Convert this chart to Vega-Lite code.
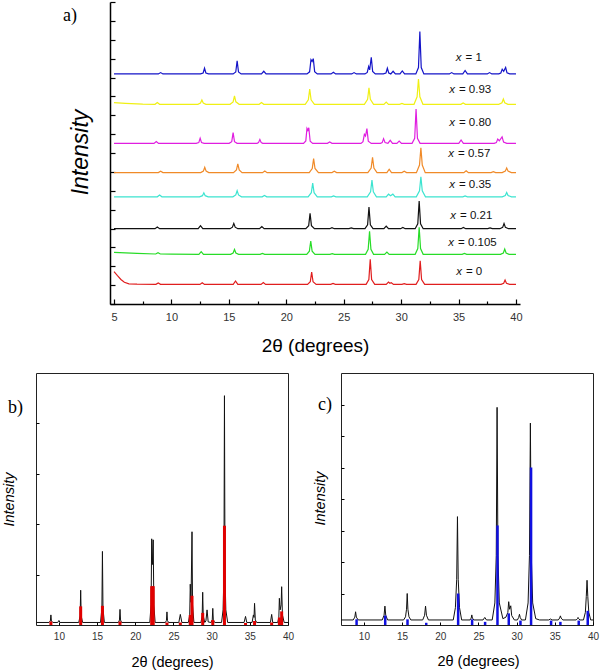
{
"$schema": "https://vega.github.io/schema/vega-lite/v6.json",
"autosize": {"type": "none"},
"padding": {"left": 36, "top": 2, "right": 564, "bottom": 669},
"background": "white",
"bounds": "flush",
"spacing": 69,
"config": {
  "font": "Liberation Sans",
  "view": {"stroke": "#222", "strokeWidth": 1},
  "axis": {"grid": false, "domainColor": "black", "tickColor": "black", "labelColor": "#333", "labelFont": "Liberation Sans", "titleFont": "Liberation Sans", "titleFontWeight": "normal", "titleColor": "black"},
  "title": {"font": "Liberation Serif", "fontWeight": "normal", "color": "black", "anchor": "start", "frame": "group", "baseline": "middle", "offset": 0}
},
"datasets": {
  "blue": [{"x":5,"y":12.19},{"x":8.86,"y":12.19},{"x":9.06,"y":12.26},{"x":9.26,"y":12.19},{"x":12.53,"y":12.19},{"x":12.76,"y":12.24},{"x":12.88,"y":12.49},{"x":13.0,"y":12.24},{"x":13.23,"y":12.19},{"x":15.37,"y":12.19},{"x":15.6,"y":12.29},{"x":15.72,"y":12.88},{"x":15.84,"y":12.29},{"x":16.07,"y":12.19},{"x":17.84,"y":12.19},{"x":18.04,"y":12.33},{"x":18.24,"y":12.19},{"x":21.8,"y":12.19},{"x":22.03,"y":12.3},{"x":22.15,"y":12.94},{"x":22.25,"y":12.85},{"x":22.35,"y":13.0},{"x":22.47,"y":12.31},{"x":22.7,"y":12.19},{"x":23.9,"y":12.19},{"x":24.1,"y":12.28},{"x":24.3,"y":12.19},{"x":25.7,"y":12.19},{"x":25.9,"y":12.26},{"x":26.1,"y":12.19},{"x":26.85,"y":12.19},{"x":27.05,"y":12.27},{"x":27.17,"y":12.58},{"x":27.26,"y":12.4},{"x":27.4,"y":13.07},{"x":27.52,"y":12.32},{"x":27.75,"y":12.19},{"x":28.45,"y":12.19},{"x":28.68,"y":12.24},{"x":28.8,"y":12.49},{"x":28.92,"y":12.24},{"x":29.1,"y":12.19},{"x":29.3,"y":12.33},{"x":29.5,"y":12.19},{"x":29.9,"y":12.19},{"x":30.1,"y":12.35},{"x":30.3,"y":12.19},{"x":31.28,"y":12.19},{"x":31.51,"y":12.53},{"x":31.63,"y":14.43},{"x":31.75,"y":12.53},{"x":31.98,"y":12.19},{"x":34.2,"y":12.19},{"x":34.4,"y":12.26},{"x":34.6,"y":12.19},{"x":35.37,"y":12.19},{"x":35.57,"y":12.37},{"x":35.77,"y":12.19},{"x":37.5,"y":12.19},{"x":37.7,"y":12.26},{"x":37.9,"y":12.19},{"x":38.5,"y":12.19},{"x":38.68,"y":12.24},{"x":38.8,"y":12.44},{"x":38.93,"y":12.33},{"x":39.1,"y":12.53},{"x":39.22,"y":12.25},{"x":39.45,"y":12.19},{"x":40,"y":12.19}],
  "yellow": [{"x":5,"y":10.67},{"x":6,"y":10.63},{"x":7.5,"y":10.59},{"x":8.57,"y":10.58},{"x":8.77,"y":10.67},{"x":8.97,"y":10.58},{"x":12.3,"y":10.58},{"x":12.53,"y":10.65},{"x":12.65,"y":10.81},{"x":12.77,"y":10.65},{"x":13.0,"y":10.58},{"x":15.1,"y":10.58},{"x":15.37,"y":10.71},{"x":15.49,"y":11.02},{"x":15.61,"y":10.71},{"x":15.9,"y":10.58},{"x":17.64,"y":10.58},{"x":17.84,"y":10.67},{"x":18.04,"y":10.58},{"x":21.65,"y":10.58},{"x":21.92,"y":10.82},{"x":22.04,"y":11.38},{"x":22.16,"y":10.82},{"x":22.45,"y":10.58},{"x":26.8,"y":10.58},{"x":27.08,"y":10.84},{"x":27.2,"y":11.45},{"x":27.32,"y":10.84},{"x":27.6,"y":10.58},{"x":28.5,"y":10.58},{"x":28.7,"y":10.7},{"x":28.9,"y":10.58},{"x":29.87,"y":10.58},{"x":30.07,"y":10.63},{"x":30.27,"y":10.58},{"x":31.12,"y":10.58},{"x":31.39,"y":10.98},{"x":31.51,"y":11.92},{"x":31.63,"y":10.98},{"x":31.9,"y":10.58},{"x":35.2,"y":10.58},{"x":35.4,"y":10.65},{"x":35.6,"y":10.58},{"x":38.5,"y":10.58},{"x":38.78,"y":10.66},{"x":38.9,"y":10.86},{"x":39.02,"y":10.66},{"x":39.3,"y":10.58},{"x":40,"y":10.58}],
  "magenta": [{"x":5,"y":8.51},{"x":8.48,"y":8.51},{"x":8.68,"y":8.61},{"x":8.88,"y":8.51},{"x":12.15,"y":8.51},{"x":12.38,"y":8.55},{"x":12.5,"y":8.78},{"x":12.62,"y":8.55},{"x":12.85,"y":8.51},{"x":15.02,"y":8.51},{"x":15.25,"y":8.6},{"x":15.37,"y":9.08},{"x":15.49,"y":8.6},{"x":15.72,"y":8.51},{"x":17.45,"y":8.51},{"x":17.58,"y":8.55},{"x":17.7,"y":8.72},{"x":17.82,"y":8.55},{"x":17.95,"y":8.51},{"x":21.5,"y":8.51},{"x":21.7,"y":8.64},{"x":21.8,"y":9.3},{"x":21.88,"y":9.2},{"x":21.96,"y":9.34},{"x":22.08,"y":8.62},{"x":22.3,"y":8.51},{"x":23.58,"y":8.51},{"x":23.78,"y":8.58},{"x":23.98,"y":8.51},{"x":26.5,"y":8.51},{"x":26.68,"y":8.6},{"x":26.8,"y":8.99},{"x":26.9,"y":8.9},{"x":27.02,"y":9.29},{"x":27.14,"y":8.63},{"x":27.4,"y":8.51},{"x":28.2,"y":8.51},{"x":28.35,"y":8.55},{"x":28.47,"y":8.76},{"x":28.6,"y":8.55},{"x":28.85,"y":8.51},{"x":29.05,"y":8.67},{"x":29.25,"y":8.51},{"x":29.63,"y":8.51},{"x":29.83,"y":8.63},{"x":30.03,"y":8.51},{"x":30.95,"y":8.51},{"x":31.18,"y":8.78},{"x":31.3,"y":10.33},{"x":31.42,"y":8.78},{"x":31.65,"y":8.51},{"x":35.02,"y":8.51},{"x":35.22,"y":8.69},{"x":35.42,"y":8.51},{"x":38.1,"y":8.51},{"x":38.29,"y":8.55},{"x":38.41,"y":8.74},{"x":38.55,"y":8.65},{"x":38.79,"y":8.85},{"x":38.92,"y":8.58},{"x":39.2,"y":8.51},{"x":40,"y":8.51}],
  "orange": [{"x":5,"y":6.96},{"x":8.86,"y":6.96},{"x":9.06,"y":7.03},{"x":9.26,"y":6.96},{"x":12.55,"y":6.96},{"x":12.78,"y":7.04},{"x":12.9,"y":7.24},{"x":13.02,"y":7.04},{"x":13.25,"y":6.96},{"x":15.4,"y":6.96},{"x":15.66,"y":7.1},{"x":15.78,"y":7.42},{"x":15.9,"y":7.1},{"x":16.15,"y":6.96},{"x":17.93,"y":6.96},{"x":18.13,"y":7.05},{"x":18.33,"y":6.96},{"x":22.0,"y":6.96},{"x":22.26,"y":7.18},{"x":22.38,"y":7.7},{"x":22.5,"y":7.18},{"x":22.8,"y":6.96},{"x":23.98,"y":6.96},{"x":24.18,"y":7.03},{"x":24.38,"y":6.96},{"x":27.1,"y":6.96},{"x":27.39,"y":7.2},{"x":27.51,"y":7.77},{"x":27.63,"y":7.2},{"x":27.9,"y":6.96},{"x":28.76,"y":6.96},{"x":28.96,"y":7.14},{"x":29.16,"y":6.96},{"x":30.07,"y":6.96},{"x":30.27,"y":7.03},{"x":30.47,"y":6.96},{"x":31.33,"y":6.96},{"x":31.6,"y":7.36},{"x":31.72,"y":8.28},{"x":31.84,"y":7.36},{"x":32.1,"y":6.96},{"x":35.46,"y":6.96},{"x":35.66,"y":7.06},{"x":35.86,"y":6.96},{"x":37.83,"y":6.96},{"x":38.03,"y":7.01},{"x":38.23,"y":6.96},{"x":38.8,"y":6.96},{"x":39.07,"y":7.04},{"x":39.19,"y":7.21},{"x":39.31,"y":7.04},{"x":39.6,"y":6.96},{"x":40,"y":6.96}],
  "cyan": [{"x":5,"y":5.68},{"x":8.77,"y":5.68},{"x":8.97,"y":5.77},{"x":9.17,"y":5.68},{"x":12.45,"y":5.68},{"x":12.7,"y":5.74},{"x":12.82,"y":5.89},{"x":12.94,"y":5.74},{"x":13.2,"y":5.68},{"x":15.35,"y":5.68},{"x":15.6,"y":5.78},{"x":15.72,"y":6.0},{"x":15.84,"y":5.78},{"x":16.1,"y":5.68},{"x":17.9,"y":5.68},{"x":18.1,"y":5.75},{"x":18.3,"y":5.68},{"x":21.9,"y":5.68},{"x":22.18,"y":5.9},{"x":22.3,"y":6.4},{"x":22.42,"y":5.9},{"x":22.7,"y":5.68},{"x":23.92,"y":5.68},{"x":24.12,"y":5.73},{"x":24.32,"y":5.68},{"x":27.05,"y":5.68},{"x":27.34,"y":5.94},{"x":27.46,"y":6.56},{"x":27.58,"y":5.94},{"x":27.85,"y":5.68},{"x":28.7,"y":5.68},{"x":28.9,"y":5.82},{"x":29.08,"y":5.74},{"x":29.28,"y":5.82},{"x":29.48,"y":5.68},{"x":31.32,"y":5.68},{"x":31.6,"y":6.0},{"x":31.72,"y":6.74},{"x":31.84,"y":6.0},{"x":32.12,"y":5.68},{"x":35.37,"y":5.68},{"x":35.57,"y":5.73},{"x":35.77,"y":5.68},{"x":38.8,"y":5.68},{"x":39.07,"y":5.75},{"x":39.19,"y":5.91},{"x":39.31,"y":5.75},{"x":39.6,"y":5.68},{"x":40,"y":5.68}],
  "black": [{"x":5,"y":3.99},{"x":8.57,"y":3.99},{"x":8.77,"y":4.08},{"x":8.97,"y":3.99},{"x":12.33,"y":3.99},{"x":12.53,"y":4.15},{"x":12.73,"y":3.99},{"x":15.1,"y":3.99},{"x":15.31,"y":4.07},{"x":15.43,"y":4.27},{"x":15.55,"y":4.07},{"x":15.78,"y":3.99},{"x":17.67,"y":3.99},{"x":17.87,"y":4.1},{"x":18.07,"y":3.99},{"x":21.7,"y":3.99},{"x":21.95,"y":4.15},{"x":22.07,"y":4.8},{"x":22.19,"y":4.15},{"x":22.45,"y":3.99},{"x":23.78,"y":3.99},{"x":23.98,"y":4.04},{"x":24.18,"y":3.99},{"x":25.46,"y":3.99},{"x":25.66,"y":4.03},{"x":25.86,"y":3.99},{"x":26.85,"y":3.99},{"x":27.08,"y":4.2},{"x":27.2,"y":5.14},{"x":27.32,"y":4.2},{"x":27.55,"y":3.99},{"x":28.5,"y":3.99},{"x":28.7,"y":4.13},{"x":28.9,"y":3.99},{"x":29.95,"y":3.99},{"x":30.15,"y":4.06},{"x":30.35,"y":3.99},{"x":31.22,"y":3.99},{"x":31.45,"y":4.25},{"x":31.57,"y":5.46},{"x":31.69,"y":4.25},{"x":31.92,"y":3.99},{"x":35.22,"y":3.99},{"x":35.42,"y":4.06},{"x":35.62,"y":3.99},{"x":37.54,"y":3.99},{"x":37.74,"y":4.03},{"x":37.94,"y":3.99},{"x":38.6,"y":3.99},{"x":38.84,"y":4.06},{"x":38.96,"y":4.26},{"x":39.08,"y":4.06},{"x":39.35,"y":3.99},{"x":40,"y":3.99}],
  "green": [{"x":5,"y":2.74},{"x":6,"y":2.71},{"x":7,"y":2.68},{"x":8.63,"y":2.65},{"x":8.83,"y":2.72},{"x":9.03,"y":2.65},{"x":10,"y":2.64},{"x":12.39,"y":2.63},{"x":12.59,"y":2.77},{"x":12.79,"y":2.63},{"x":15.15,"y":2.63},{"x":15.37,"y":2.7},{"x":15.49,"y":2.89},{"x":15.61,"y":2.7},{"x":15.85,"y":2.63},{"x":17.72,"y":2.63},{"x":17.92,"y":2.68},{"x":18.12,"y":2.63},{"x":21.78,"y":2.63},{"x":22.01,"y":2.8},{"x":22.13,"y":3.34},{"x":22.25,"y":2.8},{"x":22.5,"y":2.63},{"x":23.8,"y":2.63},{"x":24.0,"y":2.67},{"x":24.2,"y":2.63},{"x":26.9,"y":2.63},{"x":27.13,"y":2.9},{"x":27.25,"y":3.85},{"x":27.37,"y":2.9},{"x":27.6,"y":2.63},{"x":28.56,"y":2.63},{"x":28.76,"y":2.75},{"x":28.96,"y":2.63},{"x":31.22,"y":2.63},{"x":31.45,"y":2.94},{"x":31.57,"y":4.06},{"x":31.69,"y":2.94},{"x":31.92,"y":2.63},{"x":35.31,"y":2.63},{"x":35.51,"y":2.68},{"x":35.71,"y":2.63},{"x":38.65,"y":2.63},{"x":38.9,"y":2.7},{"x":39.02,"y":2.91},{"x":39.14,"y":2.7},{"x":39.4,"y":2.63},{"x":40,"y":2.63}],
  "red": [{"x":5,"y":1.71},{"x":5.3,"y":1.5},{"x":5.6,"y":1.3},{"x":5.9,"y":1.15},{"x":6.3,"y":1.07},{"x":7,"y":1.05},{"x":8.65,"y":1.04},{"x":8.85,"y":1.11},{"x":9.05,"y":1.04},{"x":12.48,"y":1.04},{"x":12.68,"y":1.13},{"x":12.88,"y":1.04},{"x":15.38,"y":1.04},{"x":15.58,"y":1.22},{"x":15.78,"y":1.04},{"x":17.8,"y":1.04},{"x":18.0,"y":1.14},{"x":18.2,"y":1.04},{"x":21.85,"y":1.04},{"x":22.09,"y":1.18},{"x":22.21,"y":1.69},{"x":22.33,"y":1.18},{"x":22.6,"y":1.04},{"x":23.87,"y":1.04},{"x":24.07,"y":1.09},{"x":24.27,"y":1.04},{"x":26.95,"y":1.04},{"x":27.19,"y":1.3},{"x":27.31,"y":2.37},{"x":27.43,"y":1.3},{"x":27.7,"y":1.04},{"x":28.7,"y":1.04},{"x":28.9,"y":1.16},{"x":29.02,"y":1.1},{"x":29.14,"y":1.13},{"x":29.34,"y":1.04},{"x":30.07,"y":1.04},{"x":30.27,"y":1.08},{"x":30.47,"y":1.04},{"x":31.3,"y":1.04},{"x":31.54,"y":1.3},{"x":31.66,"y":2.29},{"x":31.78,"y":1.3},{"x":32.05,"y":1.04},{"x":38.7,"y":1.04},{"x":38.93,"y":1.1},{"x":39.05,"y":1.27},{"x":39.17,"y":1.1},{"x":39.45,"y":1.04},{"x":40,"y":1.04}],
  "labels": [{"x":35.43,"y":13.03,"v":"= 1"},{"x":34.86,"y":11.34,"v":"= 0.93"},{"x":34.86,"y":9.59,"v":"= 0.80"},{"x":34.78,"y":7.95,"v":"= 0.57"},{"x":34.86,"y":6.3,"v":"= 0.35"},{"x":34.95,"y":4.66,"v":"= 0.21"},{"x":34.78,"y":3.23,"v":"= 0.105"},{"x":35.47,"y":1.7,"v":"= 0"}],
  "bline": [{"x":7,"y":0.05},{"x":8.7,"y":0.05},{"x":8.88,"y":0.08},{"x":8.95,"y":0.2},{"x":9.02,"y":0.08},{"x":9.2,"y":0.05},{"x":9.85,"y":0.05},{"x":10.0,"y":0.09},{"x":10.15,"y":0.05},{"x":12.6,"y":0.05},{"x":12.78,"y":0.18},{"x":12.85,"y":0.69},{"x":12.92,"y":0.18},{"x":13.1,"y":0.05},{"x":15.45,"y":0.05},{"x":15.63,"y":0.33},{"x":15.7,"y":1.46},{"x":15.77,"y":0.33},{"x":15.95,"y":0.05},{"x":17.8,"y":0.05},{"x":17.93,"y":0.1},{"x":18.0,"y":0.31},{"x":18.07,"y":0.1},{"x":18.2,"y":0.05},{"x":21.9,"y":0.05},{"x":22.07,"y":0.4},{"x":22.15,"y":1.71},{"x":22.25,"y":1.2},{"x":22.35,"y":1.69},{"x":22.43,"y":0.4},{"x":22.6,"y":0.05},{"x":23.95,"y":0.05},{"x":24.08,"y":0.09},{"x":24.15,"y":0.26},{"x":24.22,"y":0.09},{"x":24.35,"y":0.05},{"x":25.7,"y":0.05},{"x":25.9,"y":0.21},{"x":26.1,"y":0.05},{"x":26.95,"y":0.05},{"x":27.13,"y":0.2},{"x":27.2,"y":0.81},{"x":27.3,"y":0.45},{"x":27.43,"y":1.85},{"x":27.5,"y":0.4},{"x":27.68,"y":0.05},{"x":28.6,"y":0.05},{"x":28.76,"y":0.18},{"x":28.83,"y":0.65},{"x":28.9,"y":0.18},{"x":29.1,"y":0.05},{"x":29.25,"y":0.08},{"x":29.4,"y":0.3},{"x":29.55,"y":0.06},{"x":29.95,"y":0.05},{"x":30.08,"y":0.1},{"x":30.15,"y":0.33},{"x":30.22,"y":0.1},{"x":30.4,"y":0.05},{"x":31.3,"y":0.05},{"x":31.5,"y":0.3},{"x":31.61,"y":1.0},{"x":31.68,"y":4.55},{"x":31.75,"y":1.0},{"x":31.86,"y":0.3},{"x":32.1,"y":0.05},{"x":34.25,"y":0.05},{"x":34.44,"y":0.17},{"x":34.6,"y":0.05},{"x":35.3,"y":0.05},{"x":35.47,"y":0.2},{"x":35.55,"y":0.15},{"x":35.62,"y":0.43},{"x":35.72,"y":0.1},{"x":35.9,"y":0.05},{"x":37.7,"y":0.05},{"x":37.86,"y":0.21},{"x":38.0,"y":0.05},{"x":38.65,"y":0.05},{"x":38.8,"y":0.15},{"x":38.87,"y":0.53},{"x":38.97,"y":0.3},{"x":39.1,"y":0.4},{"x":39.17,"y":0.76},{"x":39.27,"y":0.2},{"x":39.5,"y":0.05},{"x":40,"y":0.05}],
  "bsticks": [{"x":8.95,"y":0.07},{"x":12.85,"y":0.37},{"x":15.7,"y":0.38},{"x":18.0,"y":0.07},{"x":22.15,"y":0.77},{"x":22.35,"y":0.77},{"x":24.15,"y":0.05},{"x":25.9,"y":0.05},{"x":27.2,"y":0.2},{"x":27.43,"y":0.58},{"x":28.83,"y":0.24},{"x":30.15,"y":0.1},{"x":31.68,"y":1.97},{"x":34.44,"y":0.04},{"x":35.62,"y":0.08},{"x":37.86,"y":0.05},{"x":38.87,"y":0.15},{"x":39.17,"y":0.27}],
  "cline": [{"x":7,"y":0.16},{"x":8.6,"y":0.16},{"x":8.81,"y":0.25},{"x":8.91,"y":0.42},{"x":9.01,"y":0.25},{"x":9.25,"y":0.16},{"x":12.4,"y":0.16},{"x":12.64,"y":0.31},{"x":12.75,"y":0.6},{"x":12.86,"y":0.31},{"x":13.1,"y":0.16},{"x":15.2,"y":0.16},{"x":15.45,"y":0.26},{"x":15.58,"y":0.5},{"x":15.67,"y":1.0},{"x":15.76,"y":0.5},{"x":15.9,"y":0.26},{"x":16.15,"y":0.16},{"x":17.7,"y":0.16},{"x":17.95,"y":0.31},{"x":18.07,"y":0.6},{"x":18.19,"y":0.31},{"x":18.45,"y":0.16},{"x":21.7,"y":0.16},{"x":21.98,"y":0.55},{"x":22.15,"y":1.45},{"x":22.25,"y":3.44},{"x":22.35,"y":1.45},{"x":22.52,"y":0.55},{"x":22.8,"y":0.16},{"x":23.9,"y":0.16},{"x":24.05,"y":0.22},{"x":24.13,"y":0.32},{"x":24.21,"y":0.22},{"x":24.4,"y":0.16},{"x":25.6,"y":0.16},{"x":25.83,"y":0.24},{"x":26.05,"y":0.16},{"x":26.8,"y":0.16},{"x":27.15,"y":0.7},{"x":27.33,"y":2.2},{"x":27.44,"y":6.91},{"x":27.55,"y":2.2},{"x":27.73,"y":0.7},{"x":28.2,"y":0.2},{"x":28.6,"y":0.25},{"x":28.85,"y":0.4},{"x":28.96,"y":0.74},{"x":29.08,"y":0.5},{"x":29.23,"y":0.61},{"x":29.35,"y":0.3},{"x":29.7,"y":0.16},{"x":30.1,"y":0.16},{"x":30.27,"y":0.24},{"x":30.37,"y":0.34},{"x":30.47,"y":0.24},{"x":30.65,"y":0.16},{"x":31.15,"y":0.16},{"x":31.5,"y":0.7},{"x":31.68,"y":2.2},{"x":31.8,"y":6.41},{"x":31.92,"y":2.2},{"x":32.1,"y":0.7},{"x":32.5,"y":0.2},{"x":33,"y":0.16},{"x":34.2,"y":0.16},{"x":34.42,"y":0.19},{"x":34.65,"y":0.16},{"x":35.45,"y":0.16},{"x":35.63,"y":0.22},{"x":35.73,"y":0.29},{"x":35.83,"y":0.22},{"x":36.05,"y":0.16},{"x":37.8,"y":0.16},{"x":37.96,"y":0.2},{"x":38.04,"y":0.24},{"x":38.12,"y":0.2},{"x":38.3,"y":0.16},{"x":38.75,"y":0.16},{"x":39.0,"y":0.4},{"x":39.12,"y":0.9},{"x":39.22,"y":1.42},{"x":39.32,"y":0.9},{"x":39.45,"y":0.4},{"x":39.7,"y":0.16},{"x":40,"y":0.16}],
  "csticks": [{"x":9.04,"y":0.18},{"x":12.79,"y":0.3},{"x":15.71,"y":0.18},{"x":18.16,"y":0.07},{"x":22.34,"y":1.0},{"x":24.17,"y":0.18},{"x":25.87,"y":0.1},{"x":27.49,"y":3.16},{"x":28.97,"y":0.37},{"x":30.5,"y":0.14},{"x":31.89,"y":5.0},{"x":34.51,"y":0.14},{"x":35.73,"y":0.1},{"x":38.13,"y":0.14},{"x":39.31,"y":0.45}]
},
"vconcat": [
  {
    "width": 484, "height": 302,
    "view": {"stroke": null},
    "title": {"text": "a)", "fontSize": 18, "dx": 27, "dy": 28},
    "resolve": {"axis": {"x": "independent", "y": "independent"}},
    "layer": [
      {"data": {"name": "blue"}, "mark": {"type": "line", "color": "#1414c8", "strokeWidth": 1.2},
       "encoding": {
         "x": {"field": "x", "type": "quantitative", "scale": {"domain": [4.65, 40.35], "range": [74, 484], "nice": false, "zero": false},
               "axis": {"orient": "bottom", "values": [5,10,15,20,25,30,35,40], "tickSize": -5, "tickWidth": 1.2, "domainWidth": 1.5, "labelPadding": 12, "labelFontSize": 11, "labelFlush": false,
                        "title": "2θ (degrees)", "titleFontSize": 19, "titleX": 279, "titleY": 41, "titleBaseline": "middle", "titleAnchor": "middle"}},
         "y": {"field": "y", "type": "quantitative", "scale": {"domain": [0, 16], "nice": false, "zero": false},
               "axis": {"offset": -74, "values": [0,1,2,3,4,5,6,7,8,9,10,11,12,13,14,15,16], "labels": false, "tickSize": -5, "tickWidth": 1.2, "domainWidth": 1.5,
                        "title": "Intensity", "titleFontSize": 23, "titleFontStyle": "italic", "titleX": -30, "titleY": 150, "titleBaseline": "middle", "titleAngle": -90, "titleAnchor": "middle"}}
       }},
      {"data": {"name": "yellow"}, "mark": {"type": "line", "color": "#f0f014", "strokeWidth": 1.2},
       "encoding": {
         "x": {"field": "x", "type": "quantitative", "axis": {"orient": "bottom", "values": [7.5,12.5,17.5,22.5,27.5,32.5,37.5], "tickSize": -3, "tickWidth": 1.2, "labels": false, "domain": false, "title": null}},
         "y": {"field": "y", "type": "quantitative", "axis": null}}},
      {"data": {"name": "magenta"}, "mark": {"type": "line", "color": "#e01ee0", "strokeWidth": 1.2},
       "encoding": {"x": {"field": "x", "type": "quantitative", "axis": null}, "y": {"field": "y", "type": "quantitative", "axis": null}}},
      {"data": {"name": "orange"}, "mark": {"type": "line", "color": "#f08a28", "strokeWidth": 1.2},
       "encoding": {"x": {"field": "x", "type": "quantitative", "axis": null}, "y": {"field": "y", "type": "quantitative", "axis": null}}},
      {"data": {"name": "cyan"}, "mark": {"type": "line", "color": "#3ce4d0", "strokeWidth": 1.2},
       "encoding": {"x": {"field": "x", "type": "quantitative", "axis": null}, "y": {"field": "y", "type": "quantitative", "axis": null}}},
      {"data": {"name": "black"}, "mark": {"type": "line", "color": "#111111", "strokeWidth": 1.2},
       "encoding": {"x": {"field": "x", "type": "quantitative", "axis": null}, "y": {"field": "y", "type": "quantitative", "axis": null}}},
      {"data": {"name": "green"}, "mark": {"type": "line", "color": "#28dc28", "strokeWidth": 1.2},
       "encoding": {"x": {"field": "x", "type": "quantitative", "axis": null}, "y": {"field": "y", "type": "quantitative", "axis": null}}},
      {"data": {"name": "red"}, "mark": {"type": "line", "color": "#e01e1e", "strokeWidth": 1.2},
       "encoding": {"x": {"field": "x", "type": "quantitative", "axis": null}, "y": {"field": "y", "type": "quantitative", "axis": null}}},
      {"data": {"name": "labels"}, "mark": {"type": "text", "text": "x", "fontStyle": "italic", "align": "right", "baseline": "middle", "dx": -2, "fontSize": 11.5, "font": "Liberation Sans", "color": "#111"},
       "encoding": {"x": {"field": "x", "type": "quantitative", "axis": null}, "y": {"field": "y", "type": "quantitative", "axis": null}}},
      {"data": {"name": "labels"}, "mark": {"type": "text", "align": "left", "baseline": "middle", "dx": 2, "fontSize": 11.5, "font": "Liberation Sans", "color": "#111"},
       "encoding": {"x": {"field": "x", "type": "quantitative", "axis": null}, "y": {"field": "y", "type": "quantitative", "axis": null}, "text": {"field": "v"}}}
    ]
  },
  {
    "bounds": "flush",
    "spacing": 53,
    "hconcat": [
      {
        "width": 252, "height": 252,
        "title": {"text": "b)", "fontSize": 18, "dx": -28, "dy": 48},
        "layer": [
          {"data": {"name": "bline"}, "mark": {"type": "line", "color": "#111111", "strokeWidth": 1},
           "encoding": {
             "x": {"field": "x", "type": "quantitative", "scale": {"domain": [7, 40], "nice": false, "zero": false},
                   "axis": {"values": [10,15,20,25,30,35,40], "tickSize": -3, "labelPadding": 9, "labelFontSize": 10, "labelFlush": false, "domain": false,
                            "title": "2θ (degrees)", "titleFontSize": 14.5, "titleX": 136, "titleY": 37, "titleBaseline": "middle", "titleAnchor": "middle"}},
             "y": {"field": "y", "type": "quantitative", "scale": {"domain": [0, 5], "nice": false, "zero": false},
                   "axis": {"values": [1,2,3,4], "labels": false, "tickSize": -3, "domain": false,
                            "title": "Intensity", "titleFontSize": 14.5, "titleFontStyle": "italic", "titleX": -27, "titleY": 126, "titleBaseline": "middle", "titleAngle": -90, "titleAnchor": "middle"}}
           }},
          {"data": {"name": "bsticks"}, "mark": {"type": "rule", "color": "#e00000", "strokeWidth": 3},
           "encoding": {"x": {"field": "x", "type": "quantitative"}, "y": {"field": "y", "type": "quantitative"}, "y2": {"datum": 0}}}
        ]
      },
      {
        "width": 252, "height": 252,
        "title": {"text": "c)", "fontSize": 18, "dx": -23, "dy": 45},
        "layer": [
          {"data": {"name": "cline"}, "mark": {"type": "line", "color": "#111111", "strokeWidth": 1},
           "encoding": {
             "x": {"field": "x", "type": "quantitative", "scale": {"domain": [7, 40], "nice": false, "zero": false},
                   "axis": {"values": [10,15,20,25,30,35,40], "tickSize": -3, "labelPadding": 9, "labelFontSize": 10, "labelFlush": false, "domain": false,
                            "title": "2θ (degrees)", "titleFontSize": 14.5, "titleX": 137, "titleY": 36, "titleBaseline": "middle", "titleAnchor": "middle"}},
             "y": {"field": "y", "type": "quantitative", "scale": {"domain": [0, 8], "nice": false, "zero": false},
                   "axis": {"values": [1,2,3,4,5,6,7], "labels": false, "tickSize": -3, "domain": false,
                            "title": "Intensity", "titleFontSize": 14.5, "titleFontStyle": "italic", "titleX": -21, "titleY": 125, "titleBaseline": "middle", "titleAngle": -90, "titleAnchor": "middle"}}
           }},
          {"data": {"name": "csticks"}, "mark": {"type": "rule", "color": "#1010e0", "strokeWidth": 2.5},
           "encoding": {"x": {"field": "x", "type": "quantitative"}, "y": {"field": "y", "type": "quantitative"}, "y2": {"datum": 0}}}
        ]
      }
    ]
  }
]
}
